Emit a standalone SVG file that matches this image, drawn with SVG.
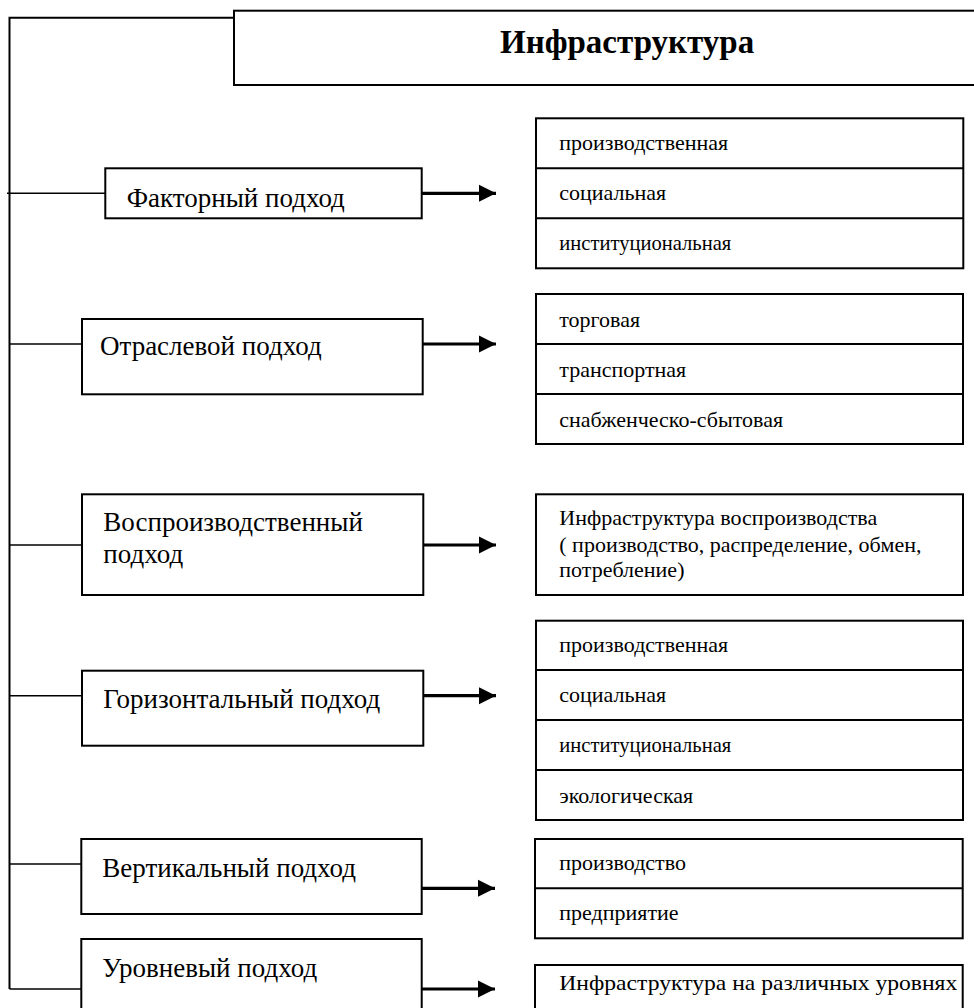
<svg xmlns="http://www.w3.org/2000/svg" width="974" height="1008" viewBox="0 0 974 1008">
<style>
  .box { fill: #fff; stroke: #000; stroke-width: 2; }
  .div { stroke: #000; stroke-width: 2; }
  .conn { stroke: #000; stroke-width: 1.5; fill: none; }
  .trunk { stroke: #000; stroke-width: 2; fill: none; }
  .arr { stroke: #000; stroke-width: 3.2; fill: none; }
  .lt { font-family: "Liberation Serif", "Times New Roman", serif; font-size: 27px; fill: #000; }
  .rt { font-family: "Liberation Serif", "Times New Roman", serif; font-size: 22px; fill: #000; }
  .title { font-family: "Liberation Serif", "Times New Roman", serif; font-size: 33px; font-weight: bold; fill: #000; }
</style>
<defs>
  <marker id="ah" markerUnits="userSpaceOnUse" markerWidth="18" markerHeight="18" refX="17" refY="9" orient="auto">
    <path d="M0,0.5 L17,9 L0,17.5 z" fill="#000"/>
  </marker>
</defs>
<rect width="974" height="1008" fill="#fff"/>

<g id="connectors">
  <polyline class="trunk" points="234,17.7 9.5,17.7 9.5,989"/>
  <line class="conn" x1="7" y1="193.3" x2="105" y2="193.3"/>
  <line class="conn" x1="9.5" y1="344" x2="82" y2="344"/>
  <line class="conn" x1="9.5" y1="545" x2="82" y2="545"/>
  <line class="conn" x1="9.5" y1="695.7" x2="82" y2="695.7"/>
  <line class="conn" x1="9.5" y1="864" x2="81" y2="864"/>
  <line class="conn" x1="9.5" y1="989" x2="81" y2="989"/>
  <line class="arr" x1="421" y1="193.3" x2="496" y2="193.3" marker-end="url(#ah)"/>
  <line class="arr" x1="422" y1="344" x2="496" y2="344" marker-end="url(#ah)"/>
  <line class="arr" x1="422" y1="545" x2="496" y2="545" marker-end="url(#ah)"/>
  <line class="arr" x1="422" y1="695.7" x2="496" y2="695.7" marker-end="url(#ah)"/>
  <line class="arr" x1="419" y1="888.3" x2="495" y2="888.3" marker-end="url(#ah)"/>
  <line class="arr" x1="419" y1="989" x2="495" y2="989" marker-end="url(#ah)"/>
</g>

<g id="title">
  <rect class="box" x="234" y="10.7" width="750" height="74.3"/>
  <text class="title" x="500" y="53">Инфраструктура</text>
</g>

<g id="factor">
  <rect class="box" x="105.3" y="168.3" width="316.4" height="50"/>
  <text class="lt" x="126.7" y="206.7">Факторный подход</text>
</g>
<g id="factor-list">
  <rect class="box" x="536" y="118.3" width="427.3" height="150"/>
  <line class="div" x1="536" y1="168.3" x2="963.3" y2="168.3"/>
  <line class="div" x1="536" y1="218.3" x2="963.3" y2="218.3"/>
  <text class="rt" x="559.3" y="150">производственная</text>
  <text class="rt" x="559.3" y="200">социальная</text>
  <text class="rt" x="559.3" y="250" textLength="172" lengthAdjust="spacingAndGlyphs">институциональная</text>
</g>

<g id="branch">
  <rect class="box" x="82" y="319" width="340.7" height="75.3"/>
  <text class="lt" x="100" y="355">Отраслевой подход</text>
</g>
<g id="branch-list">
  <rect class="box" x="536" y="294" width="427" height="150"/>
  <line class="div" x1="536" y1="344" x2="963" y2="344"/>
  <line class="div" x1="536" y1="394" x2="963" y2="394"/>
  <text class="rt" x="559.3" y="326.7">торговая</text>
  <text class="rt" x="559.3" y="376.7">транспортная</text>
  <text class="rt" x="559.3" y="426.7">снабженческо-сбытовая</text>
</g>

<g id="repro">
  <rect class="box" x="82" y="494.3" width="341.3" height="100.7"/>
  <text class="lt" x="103.3" y="530.7">Воспроизводственный</text>
  <text class="lt" x="103.3" y="563.3">подход</text>
</g>
<g id="repro-list">
  <rect class="box" x="536" y="494.3" width="427" height="100.7"/>
  <text class="rt" x="559.3" y="525">Инфраструктура воспроизводства</text>
  <text class="rt" x="559.3" y="551.7">( производство, распределение, обмен,</text>
  <text class="rt" x="559.3" y="576.7">потребление)</text>
</g>

<g id="horizontal">
  <rect class="box" x="82" y="670.7" width="341.3" height="75"/>
  <text class="lt" x="103.3" y="708.3">Горизонтальный подход</text>
</g>
<g id="horizontal-list">
  <rect class="box" x="536" y="620.7" width="427" height="199.3"/>
  <line class="div" x1="536" y1="670" x2="963" y2="670"/>
  <line class="div" x1="536" y1="720" x2="963" y2="720"/>
  <line class="div" x1="536" y1="770" x2="963" y2="770"/>
  <text class="rt" x="559.3" y="651.7">производственная</text>
  <text class="rt" x="559.3" y="701.7">социальная</text>
  <text class="rt" x="559.3" y="751.7" textLength="172" lengthAdjust="spacingAndGlyphs">институциональная</text>
  <text class="rt" x="559.3" y="803">экологическая</text>
</g>

<g id="vertical">
  <rect class="box" x="81.3" y="839" width="340.4" height="75"/>
  <text class="lt" x="102.3" y="876.7">Вертикальный подход</text>
</g>
<g id="vertical-list">
  <rect class="box" x="535" y="839" width="427.7" height="99.3"/>
  <line class="div" x1="535" y1="888.3" x2="962.7" y2="888.3"/>
  <text class="rt" x="559.3" y="870">производство</text>
  <text class="rt" x="559.3" y="920">предприятие</text>
</g>

<g id="level">
  <rect class="box" x="81.3" y="939" width="340.4" height="80"/>
  <text class="lt" x="102.3" y="976.7">Уровневый подход</text>
</g>
<g id="level-list">
  <rect class="box" x="535" y="965" width="427.7" height="60"/>
  <text class="rt" x="559.3" y="990" textLength="398" lengthAdjust="spacingAndGlyphs">Инфраструктура на различных уровнях</text>
</g>
</svg>
